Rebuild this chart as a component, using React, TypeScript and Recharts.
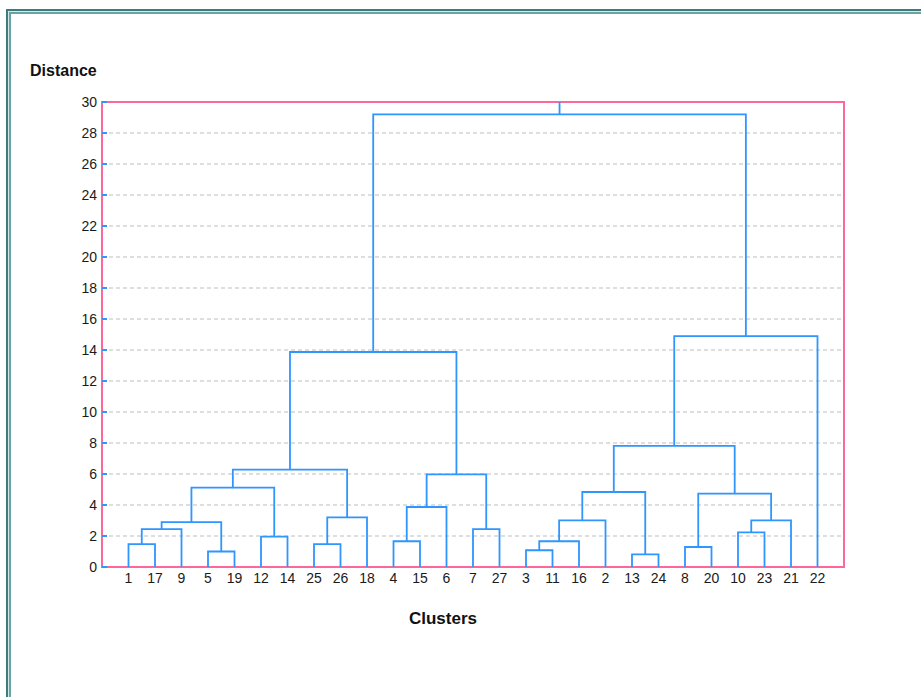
import { CartesianGrid, Line, LineChart, ReferenceArea, XAxis, YAxis } from "recharts";

// leaf order along the bottom axis
const leafLabels = [
  "1", "17", "9", "5", "19", "12", "14", "25", "26", "18", "4", "15", "6", "7",
  "27", "3", "11", "16", "2", "13", "24", "8", "20", "10", "23", "21", "22",
];

// merges: [left child, right child, distance]; "mN" is the Nth merge below
const merges: [string, string, number][] = [
  ["1", "17", 1.48], // m0
  ["m0", "9", 2.45], // m1
  ["5", "19", 1.0], // m2
  ["m1", "m2", 2.9], // m3
  ["12", "14", 1.96], // m4
  ["m3", "m4", 5.12], // m5
  ["25", "26", 1.48], // m6
  ["m6", "18", 3.2], // m7
  ["m5", "m7", 6.28], // m8
  ["4", "15", 1.66], // m9
  ["m9", "6", 3.87], // m10
  ["7", "27", 2.45], // m11
  ["m10", "m11", 5.98], // m12
  ["m8", "m12", 13.87], // m13
  ["3", "11", 1.08], // m14
  ["m14", "16", 1.66], // m15
  ["m15", "2", 3.01], // m16
  ["13", "24", 0.82], // m17
  ["m16", "m17", 4.84], // m18
  ["8", "20", 1.29], // m19
  ["10", "23", 2.24], // m20
  ["m20", "21", 3.01], // m21
  ["m19", "m21", 4.73], // m22
  ["m18", "m22", 7.81], // m23
  ["m23", "22", 14.9], // m24
  ["m13", "m24", 29.2], // m25
];

const yTicks = [0, 2, 4, 6, 8, 10, 12, 14, 16, 18, 20, 22, 24, 26, 28, 30];
const xTicks = leafLabels.map((_, i) => i + 1);
const yMax = 30;

const BLUE = "#2f95ff";
const PINK = "#ff6699";
const FONT = "Arial, 'Liberation Sans', sans-serif";

// build the U-shaped links, each node sits halfway between its children
const pos: Record<string, { x: number; y: number }> = {};
leafLabels.forEach((l, i) => (pos[l] = { x: i + 1, y: 0 }));
const links = merges.map(([a, b, h], i) => {
  const pa = pos[a];
  const pb = pos[b];
  pos["m" + i] = { x: (pa.x + pb.x) / 2, y: h };
  return [
    { x: pa.x, y: pa.y },
    { x: pa.x, y: h },
    { x: pb.x, y: h },
    { x: pb.x, y: pb.y },
  ];
});
const root = pos["m" + (merges.length - 1)];
links.push([
  { x: root.x, y: root.y },
  { x: root.x, y: yMax },
]);

function LeftTick(props: any) {
  const { x, y, payload } = props;
  return (
    <g>
      <line x1={x + 5} x2={x + 10} y1={y} y2={y} stroke={BLUE} strokeWidth={2} />
      <text x={x} y={y} dy={5} textAnchor="end" fill="#1a1a1a" fontSize={14} fontFamily={FONT}>
        {payload.value}
      </text>
    </g>
  );
}

function RightTick(props: any) {
  const { x, y } = props;
  return <line x1={x - 6} x2={x} y1={y} y2={y} stroke={BLUE} strokeWidth={2} />;
}

export default function App() {
  return (
    <div style={{ position: "absolute", left: 0, top: 0, width: 921, height: 697, overflow: "hidden", background: "#fff" }}>
      <div
        style={{
          position: "absolute",
          left: 6,
          top: 9,
          width: 940,
          height: 720,
          borderLeft: "2px solid #3f7b7b",
          borderTop: "2px solid #3f7b7b",
          background: "#d4e8e8",
        }}
      >
        <div
          style={{
            position: "absolute",
            left: 1,
            top: 1,
            right: 0,
            bottom: 0,
            borderLeft: "2px solid #69a3a3",
            borderTop: "2px solid #69a3a3",
            background: "#fff",
          }}
        />
      </div>
      <div
        style={{
          position: "absolute",
          left: 30,
          top: 62,
          fontFamily: FONT,
          fontWeight: "bold",
          fontSize: 16,
          color: "#111",
        }}
      >
        Distance
      </div>
      <div
        style={{
          position: "absolute",
          left: 393,
          top: 609,
          width: 100,
          textAlign: "center",
          fontFamily: FONT,
          fontWeight: "bold",
          fontSize: 17,
          color: "#111",
        }}
      >
        Clusters
      </div>
      <div style={{ position: "absolute", left: 0, top: 0 }}>
        <LineChart width={921} height={697} margin={{ top: 102, right: 67, bottom: 100, left: 42 }}>
          <CartesianGrid vertical={false} stroke="#bdbdbd" strokeDasharray="4 3" />
          <XAxis
            type="number"
            dataKey="x"
            domain={[0, 28]}
            ticks={xTicks}
            interval={0}
            tickFormatter={(v: number) => leafLabels[v - 1]}
            axisLine={false}
            tickLine={false}
            tickSize={0}
            tickMargin={6}
            height={30}
            tick={{ fill: "#1a1a1a", fontSize: 14, fontFamily: FONT }}
          />
          <YAxis
            type="number"
            domain={[0, yMax]}
            ticks={yTicks}
            interval={0}
            width={60}
            axisLine={false}
            tickLine={false}
            tickSize={0}
            tickMargin={5}
            tick={<LeftTick />}
          />
          <YAxis
            yAxisId="right"
            orientation="right"
            type="number"
            domain={[0, yMax]}
            ticks={yTicks}
            interval={0}
            width={10}
            axisLine={false}
            tickLine={false}
            tickSize={0}
            tickMargin={0}
            tick={<RightTick />}
          />
          <ReferenceArea x1={0} x2={28} y1={0} y2={yMax} fill="none" stroke={PINK} strokeWidth={2} ifOverflow="visible" />
          {links.map((d, i) => (
            <Line
              key={i}
              data={d}
              dataKey="y"
              type="linear"
              stroke={BLUE}
              strokeWidth={1.8}
              dot={false}
              activeDot={false}
              isAnimationActive={false}
            />
          ))}
        </LineChart>
      </div>
    </div>
  );
}
